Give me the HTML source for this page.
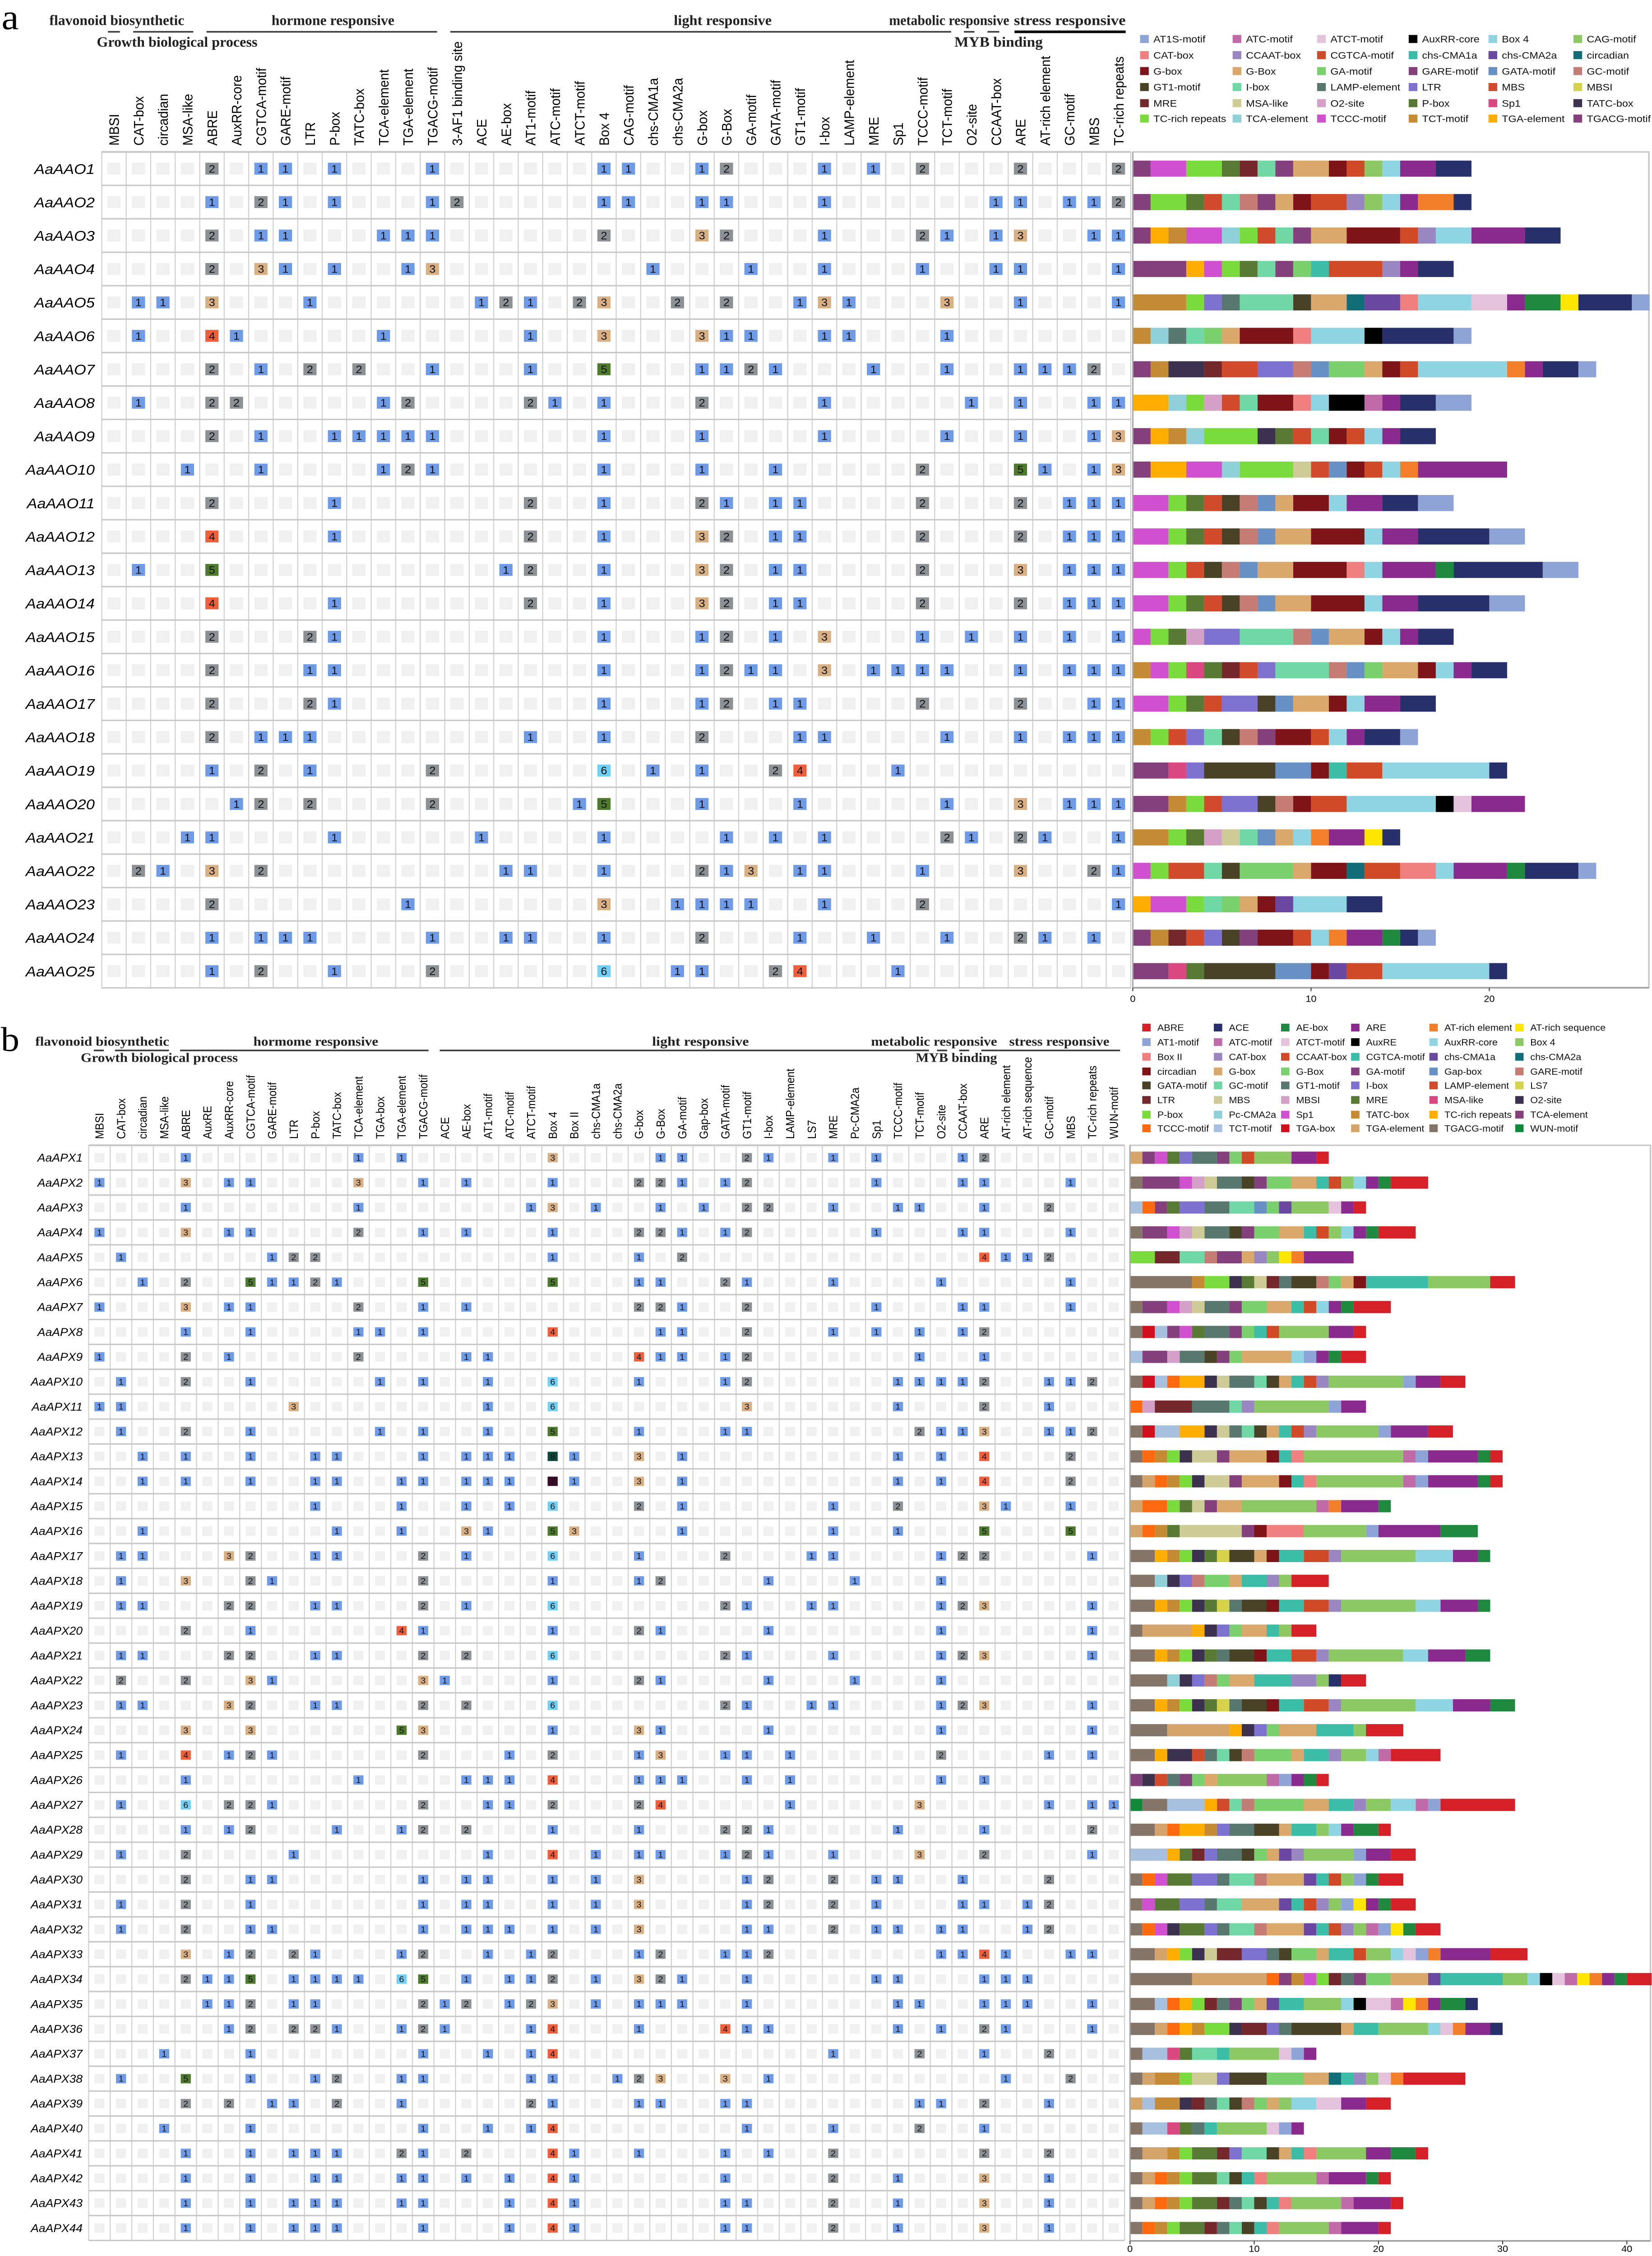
<!DOCTYPE html>
<html><head><meta charset="utf-8"><title>cis-element heatmaps</title>
<style>
html,body{margin:0;padding:0;background:#fff;width:100vw;height:100vh;overflow:hidden;}
svg{display:block;width:100vw;height:100vh;}
.hdr{font-family:"Liberation Serif",serif;font-weight:bold;fill:#222;}
.col{font-family:"Liberation Sans",sans-serif;fill:#000;}
.row{font-family:"Liberation Sans",sans-serif;font-style:italic;fill:#000;}
.num{font-family:"Liberation Sans",sans-serif;fill:#111;}
.leg{font-family:"Liberation Sans",sans-serif;fill:#111;}
.tick{font-family:"Liberation Sans",sans-serif;fill:#000;}
</style></head>
<body>
<svg id="fig" xmlns="http://www.w3.org/2000/svg" viewBox="0 0 1064 1568" preserveAspectRatio="none" overflow="hidden">
<rect x="0" y="0" width="1064" height="1568" fill="#fff"/>
<text x="1" y="20.3" font-family="Liberation Serif,serif" font-size="25">a</text>
<text x="0.5" y="730.6" font-family="Liberation Serif,serif" font-size="24">b</text>
</svg>
<script>
// ===== Panel A data =====
const motifsA = ["MBSI","CAT-box","circadian","MSA-like","ABRE","AuxRR-core","CGTCA-motif","GARE-motif","LTR","P-box","TATC-box","TCA-element","TGA-element","TGACG-motif","3-AF1 binding site","ACE","AE-box","AT1-motif","ATC-motif","ATCT-motif","Box 4","CAG-motif","chs-CMA1a","chs-CMA2a","G-box","G-Box","GA-motif","GATA-motif","GT1-motif","I-box","LAMP-element","MRE","Sp1","TCCC-motif","TCT-motif","O2-site","CCAAT-box","ARE","AT-rich element","GC-motif","MBS","TC-rich repeats"];
const genesA = ["AaAAO1","AaAAO2","AaAAO3","AaAAO4","AaAAO5","AaAAO6","AaAAO7","AaAAO8","AaAAO9","AaAAO10","AaAAO11","AaAAO12","AaAAO13","AaAAO14","AaAAO15","AaAAO16","AaAAO17","AaAAO18","AaAAO19","AaAAO20","AaAAO21","AaAAO22","AaAAO23","AaAAO24","AaAAO25"];
const cellsA = [
"4:2 6:1 7:1 9:1 13:1 20:1 21:1 24:1 25:2 29:1 31:1 33:2 37:2 41:2",
"4:1 6:2 7:1 9:1 13:1 14:2 20:1 21:1 24:1 25:1 29:1 36:1 37:1 39:1 40:1 41:2",
"4:2 6:1 7:1 11:1 12:1 13:1 20:2 24:3 25:2 29:1 33:2 34:1 36:1 37:3 40:1 41:1",
"4:2 6:3 7:1 9:1 12:1 13:3 22:1 26:1 29:1 33:1 36:1 37:1 41:1",
"1:1 2:1 4:3 8:1 15:1 16:2 17:1 19:2 20:3 23:2 25:2 28:1 29:3 30:1 34:3 37:1 41:1",
"1:1 4:4 5:1 11:1 17:1 20:3 24:3 25:1 26:1 29:1 30:1 34:1",
"4:2 6:1 8:2 10:2 13:1 17:1 20:5 24:1 25:1 26:2 27:1 31:1 34:1 37:1 38:1 39:1 40:2",
"1:1 4:2 5:2 11:1 12:2 17:2 18:1 20:1 24:2 29:1 35:1 37:1 40:1 41:1",
"4:2 6:1 9:1 10:1 11:1 12:1 13:1 20:1 24:1 29:1 34:1 37:1 40:1 41:3",
"3:1 6:1 11:1 12:2 13:1 20:1 24:1 27:1 33:2 37:5 38:1 40:1 41:3",
"4:2 9:1 17:2 20:1 24:2 25:1 27:1 28:1 33:2 37:2 39:1 40:1 41:1",
"4:4 9:1 17:2 20:1 24:3 25:2 27:1 28:1 33:2 37:2 39:1 40:1 41:1",
"1:1 4:5 16:1 17:2 20:1 24:3 25:2 27:1 28:1 33:2 37:3 39:1 40:1 41:1",
"4:4 9:1 17:2 20:1 24:3 25:2 27:1 28:1 33:2 37:2 39:1 40:1 41:1",
"4:2 8:2 9:1 20:1 24:1 25:2 27:1 29:3 33:1 35:1 37:1 39:1 41:1",
"4:2 8:1 9:1 20:1 24:1 25:2 26:1 27:1 29:3 31:1 32:1 33:1 34:1 37:1 39:1 40:1 41:1",
"4:2 8:2 9:1 20:1 24:1 25:2 27:1 28:1 33:2 37:2 40:1 41:1",
"4:2 6:1 7:1 8:1 17:1 20:1 24:2 28:1 29:1 34:1 37:1 39:1 40:1 41:1",
"4:1 6:2 8:1 13:2 20:6 22:1 24:1 27:2 28:4 32:1",
"5:1 6:2 8:2 13:2 19:1 20:5 24:1 28:1 34:1 37:3 39:1 40:1 41:1",
"3:1 4:1 9:1 15:1 20:1 25:1 27:1 29:1 34:2 35:1 37:2 38:1 41:1",
"1:2 2:1 4:3 6:2 16:1 17:1 20:1 24:2 25:1 26:3 28:1 29:1 33:1 37:3 40:2 41:1",
"4:2 12:1 20:3 23:1 24:1 25:1 26:1 29:1 33:2 41:1",
"4:1 6:1 7:1 8:1 13:1 16:1 17:1 20:1 24:2 28:1 31:1 34:1 37:2 38:1 40:1",
"4:1 6:2 9:1 13:2 20:6 23:1 24:1 27:2 28:4 32:1"
];
const legendA = ["AT1S-motif","ATC-motif","ATCT-motif","AuxRR-core","Box 4","CAG-motif","CAT-box","CCAAT-box","CGTCA-motif","chs-CMA1a","chs-CMA2a","circadian","G-box","G-Box","GA-motif","GARE-motif","GATA-motif","GC-motif","GT1-motif","I-box","LAMP-element","LTR","MBS","MBSI","MRE","MSA-like","O2-site","P-box","Sp1","TATC-box","TC-rich repeats","TCA-element","TCCC-motif","TCT-motif","TGA-element","TGACG-motif"];
const legendAColors = ["#8ea3d6","#c06aa8","#e6c3dc","#000000","#8fd4e3","#8cc864","#f07f80","#9a86c0","#d04a28","#3bbda8","#6a47a0","#0f6e78","#7f1418","#d9a86a","#7bd06e","#84407c","#6790c4","#c47c74","#4a4226","#6fd8a4","#58776f","#7d72d0","#d24a2c","#d6d24a","#74282c","#cfcb96","#d4a0c8","#587a34","#d94880","#3c3250","#7adc3c","#90d0d8","#d050d0","#c58a34","#ffae00","#84407c"];
const extraA = ["ABRE","3-AF1 binding site","ACE","AE-box","ARE","AT-rich element","AT1-motif"];
const extraAColors = ["#27306b","#f47f2a","#ffe600","#1f8a3f","#8a2a8e","#f47f2a","#8ea3d6"];
const ticksA = [0,10,20];

// ===== Panel B data =====
const motifsB = ["MBSI","CAT-box","circadian","MSA-like","ABRE","AuxRE","AuxRR-core","CGTCA-motif","GARE-motif","LTR","P-box","TATC-box","TCA-element","TGA-box","TGA-element","TGACG-motif","ACE","AE-box","AT1-motif","ATC-motif","ATCT-motif","Box 4","Box II","chs-CMA1a","chs-CMA2a","G-box","G-Box","GA-motif","Gap-box","GATA-motif","GT1-motif","I-box","LAMP-element","LS7","MRE","Pc-CMA2a","Sp1","TCCC-motif","TCT-motif","O2-site","CCAAT-box","ARE","AT-rich element","AT-rich sequence","GC-motif","MBS","TC-rich repeats","WUN-motif"];
const genesB = ["AaAPX1","AaAPX2","AaAPX3","AaAPX4","AaAPX5","AaAPX6","AaAPX7","AaAPX8","AaAPX9","AaAPX10","AaAPX11","AaAPX12","AaAPX13","AaAPX14","AaAPX15","AaAPX16","AaAPX17","AaAPX18","AaAPX19","AaAPX20","AaAPX21","AaAPX22","AaAPX23","AaAPX24","AaAPX25","AaAPX26","AaAPX27","AaAPX28","AaAPX29","AaAPX30","AaAPX31","AaAPX32","AaAPX33","AaAPX34","AaAPX35","AaAPX36","AaAPX37","AaAPX38","AaAPX39","AaAPX40","AaAPX41","AaAPX42","AaAPX43","AaAPX44"];
const cellsB = [
"4:1 12:1 14:1 21:3 26:1 27:1 30:2 31:1 34:1 36:1 40:1 41:2",
"0:1 4:3 6:1 7:1 12:3 15:1 17:1 21:1 25:2 26:2 27:1 29:1 30:2 36:1 40:1 41:1 45:1",
"4:1 12:1 20:1 21:3 23:1 26:1 28:1 30:2 31:2 34:1 37:1 38:1 41:1 44:2",
"0:1 4:3 6:1 7:1 12:2 15:1 17:1 21:1 25:2 26:2 27:1 29:1 30:2 36:1 40:1 41:1 45:1",
"1:1 8:1 9:2 10:2 21:1 25:1 27:2 41:4 42:1 43:1 44:2",
"2:1 4:2 7:5 8:1 9:1 10:2 11:1 15:5 21:5 25:1 26:1 29:2 30:1 34:1 39:1 45:1",
"0:1 4:3 6:1 7:1 12:2 15:1 17:1 25:2 26:2 27:1 30:2 36:1 40:1 41:1 45:1",
"4:1 7:1 12:1 13:1 15:1 21:4 26:1 27:1 30:2 34:1 36:1 38:1 40:1 41:2",
"0:1 4:2 6:1 12:2 17:1 18:1 25:4 26:1 27:1 29:1 30:2 38:1 41:1",
"1:1 4:2 7:1 13:1 15:1 18:1 21:6 25:1 29:1 30:2 37:1 38:1 39:1 40:1 41:2 44:1 45:1 46:2",
"0:1 1:1 9:3 18:1 21:6 30:3 37:1 41:2 44:1",
"1:1 4:2 7:1 13:1 15:1 18:1 21:5 25:1 29:1 30:1 38:2 39:1 40:1 41:3 44:1 45:1 46:2",
"2:1 4:1 7:1 10:1 11:1 15:1 17:1 18:1 19:1 21:8 22:1 25:3 27:1 37:1 39:1 41:4 45:2",
"2:1 4:1 7:1 10:1 11:1 14:1 15:1 17:1 18:1 19:1 21:7 22:1 25:3 27:1 37:1 39:1 41:4 45:2",
"10:1 14:1 17:1 19:1 21:6 25:2 27:1 34:1 37:2 41:3 42:1 45:1",
"2:1 11:1 14:1 17:3 18:1 21:5 22:3 27:1 34:1 37:1 41:5 45:5",
"1:1 2:1 6:3 7:2 10:1 11:1 15:2 17:1 21:6 25:1 29:2 33:1 34:1 39:1 40:2 41:2 46:1",
"1:1 4:3 7:2 8:1 15:2 21:1 25:1 26:2 31:1 35:1 39:1",
"1:1 2:1 6:2 7:2 10:1 11:1 15:2 17:1 21:6 29:2 30:1 33:1 34:1 39:1 40:2 41:3 46:1",
"4:2 7:1 14:4 15:1 21:1 25:2 26:1 31:1 39:1 46:1",
"1:1 2:1 6:2 7:2 10:1 11:1 15:2 17:2 21:6 29:2 30:1 34:1 39:1 40:2 41:3 46:1",
"1:2 4:2 7:3 8:1 15:3 16:1 21:1 25:2 26:1 31:1 35:1 39:1",
"1:1 2:1 6:3 7:2 10:1 11:1 15:2 17:2 21:6 29:2 30:1 33:1 34:1 39:1 40:2 41:3 46:1",
"4:3 7:3 14:5 15:3 21:1 25:3 26:1 31:1 39:1 46:1",
"1:1 4:4 6:1 7:2 8:1 15:2 19:1 21:2 25:1 26:3 29:1 30:1 32:1 39:2 44:1 46:1",
"4:1 12:1 17:1 18:1 19:1 21:4 25:1 26:1 27:1 30:1 32:1 39:1 41:1",
"1:1 4:6 6:2 7:2 8:1 15:2 18:1 19:1 21:2 25:2 26:4 32:1 38:3 44:1 46:1 47:1",
"4:1 6:1 7:2 11:1 14:1 15:2 17:2 21:1 25:1 29:2 30:2 31:1 37:1 41:1 46:2",
"1:1 4:2 9:1 18:1 21:4 23:1 25:1 26:1 29:1 30:2 31:1 34:1 38:3 41:2 46:1",
"4:2 7:1 8:1 15:1 17:1 18:1 21:1 23:1 25:3 30:1 31:2 34:2 36:1 37:1 40:1 44:2",
"1:1 4:2 7:1 15:1 17:1 18:1 21:1 23:1 25:3 30:1 31:2 34:2 36:1 40:1 41:1 43:1 44:2",
"1:1 4:2 7:1 8:1 15:1 17:1 18:1 19:1 21:1 23:1 25:3 30:1 31:1 34:2 36:1 37:1 39:1 40:1 43:1 44:2",
"4:3 6:1 7:2 9:2 10:1 14:1 15:2 18:1 20:1 21:2 25:1 26:2 29:1 30:1 31:2 39:1 40:1 41:4 42:1 45:1 46:1",
"4:2 5:1 6:1 7:5 9:1 10:1 11:1 12:1 14:6 15:5 17:1 19:1 20:1 21:2 23:1 25:3 26:2 27:1 30:1 36:1 37:1 41:1 42:1 43:1",
"5:1 6:1 7:2 9:1 10:1 15:2 16:1 17:2 19:1 20:2 21:3 23:1 25:1 26:1 27:1 30:1 37:1 38:1 41:1 42:1 43:1 46:1",
"6:1 7:2 9:2 10:2 11:1 14:1 15:2 16:1 20:1 21:4 25:1 29:4 30:1 31:1 37:1 39:1 41:2 42:1 46:1",
"3:1 7:1 15:1 18:1 20:1 21:4 34:1 38:2 41:1 44:2",
"1:1 4:5 7:1 10:1 11:2 14:1 15:1 20:1 21:1 24:1 25:2 26:3 29:3 31:1 42:1 45:2",
"4:2 6:2 8:1 9:1 11:2 14:1 20:2 21:1 25:1 26:1 29:1 30:1 38:1 39:1 41:2 44:1",
"3:1 7:1 15:1 18:1 20:1 21:4 30:1 34:1 38:2 41:1",
"4:1 7:1 9:1 10:1 11:1 14:2 15:1 17:2 21:4 22:1 25:1 29:1 31:1 34:2 41:2 44:2",
"4:1 7:1 10:1 11:1 14:1 15:1 17:1 19:1 21:4 22:1 29:1 34:2 37:1 41:3 44:1",
"4:1 7:1 9:1 10:1 11:1 14:1 15:1 19:1 21:4 22:1 29:1 30:1 34:2 37:1 41:3 44:1",
"4:1 7:1 9:1 10:1 11:1 15:1 19:1 21:4 22:1 29:1 30:1 34:2 37:1 41:3 44:1"
];
const legendB = ["ABRE","ACE","AE-box","ARE","AT-rich element","AT-rich sequence","AT1-motif","ATC-motif","ATCT-motif","AuxRE","AuxRR-core","Box 4","Box II","CAT-box","CCAAT-box","CGTCA-motif","chs-CMA1a","chs-CMA2a","circadian","G-box","G-Box","GA-motif","Gap-box","GARE-motif","GATA-motif","GC-motif","GT1-motif","I-box","LAMP-element","LS7","LTR","MBS","MBSI","MRE","MSA-like","O2-site","P-box","Pc-CMA2a","Sp1","TATC-box","TC-rich repeats","TCA-element","TCCC-motif","TCT-motif","TGA-box","TGA-element","TGACG-motif","WUN-motif"];
const legendBColors = ["#d62028","#27306b","#1f8a3f","#8a2a8e","#f47f2a","#ffe600","#8ea3d6","#c06aa8","#e6c3dc","#000000","#8fd4e3","#8cc864","#f07f80","#9a86c0","#d04a28","#3bbda8","#6a47a0","#0f6e78","#7f1418","#d9a86a","#7bd06e","#84407c","#6790c4","#c47c74","#4a4226","#6fd8a4","#58776f","#7d72d0","#d24a2c","#d6d24a","#74282c","#cfcb96","#d4a0c8","#587a34","#d94880","#3c3250","#7adc3c","#90d0d8","#d050d0","#c58a34","#ffae00","#84407c","#ff6a10","#a8c0e0","#d0101c","#d4a46a","#857468","#108a3a"];
const ticksB = [0,10,20,30,40];

const valueColors = ["#f0f0f0","#6f9be6","#8c9196","#d8b084","#ef5f3c","#4d7a2c","#72d0f4","#3b0b2b","#0d4b3f"];

// ===== Rendering =====
const NS = "http://www.w3.org/2000/svg";
const svg = document.getElementById("fig");
function mk(tag, attrs, parent) {
  const e = document.createElementNS(NS, tag);
  for (const k in attrs) e.setAttribute(k, attrs[k]);
  (parent || svg).appendChild(e);
  return e;
}
function parseCells(s) {
  const m = {};
  s.trim().split(/\s+/).forEach(p => { const [c, v] = p.split(":"); m[+c] = +v; });
  return m;
}

function drawHeader(texts, lines, lineY) {
  texts.forEach(t => {
    const el = mk("text", {x: t[1], y: t[3], class: "hdr", "font-size": t[4], textLength: t[2] - t[1], lengthAdjust: "spacingAndGlyphs"});
    el.textContent = t[0];
    
    
  });
  lines.forEach(l => {
    const el = mk("line", {x1: l[0], x2: l[1], y1: lineY, y2: lineY, stroke: l[2] || "#3a3a3a", "stroke-width": l[3] || 1.1});
    
    
  });
}

function drawPanel(P) {
  const g = mk("g", {});
  
  
  const nR = P.genes.length, nC = P.motifs.length;
  const right = P.left + nC * P.cw, bottom = P.top + nR * P.rh;
  P.motifs.forEach((m, i) => {
    const cx = P.left + (i + 0.5) * P.cw + P.colFont * 0.36;
    const t = mk("text", {x: cx, y: P.top - 4.4, class: "col", "font-size": P.colFont, transform: `rotate(-90 ${cx} ${P.top - 4.4})`}, g);
    t.textContent = m;
    
    
  });
  for (let i = 0; i <= nC; i++) {
    const x = P.left + i * P.cw;
    mk("line", {x1: x, x2: x, y1: P.top, y2: bottom, stroke: "#d2d2d2", "stroke-width": 0.7}, g);
  }
  for (let r = 0; r <= nR; r++) {
    const y = P.top + r * P.rh;
    mk("line", {x1: P.left, x2: right, y1: y, y2: y, stroke: "#c8c8c8", "stroke-width": r === 0 ? 1.3 : 1}, g);
  }
  P.genes.forEach((gene, r) => {
    const cy = P.top + (r + 0.5) * P.rh;
    const lbl = mk("text", {x: P.labelRight, y: cy + P.rowFont * 0.36, class: "row", "font-size": P.rowFont, "text-anchor": "end"}, g);
    lbl.textContent = gene;
    
    
    const cells = parseCells(P.cells[r]);
    for (let c = 0; c < nC; c++) {
      const cx = P.left + (c + 0.5) * P.cw;
      const v = cells[c] || 0;
      const sq = mk("rect", {x: cx - P.sw / 2, y: cy - P.sh / 2, width: P.sw, height: P.sh, fill: valueColors[v]}, g);
      
      
      if (v) {
        const tx = mk("text", {x: cx, y: cy + P.numFont * 0.36, class: "num", "font-size": P.numFont, "text-anchor": "middle"}, g);
        tx.textContent = v;
        
        
      }
    }
  });
  const bg = mk("g", {});
  
  
  const xS = v => P.bx0 + v * P.bxu;
  const frame = mk("rect", {x: P.bx0, y: P.top, width: P.bxR - P.bx0, height: P.bBottom - P.top, fill: "none", stroke: "#c8c8c8", "stroke-width": 1}, bg);
  
  
  const order = P.order;
  P.genes.forEach((gene, r) => {
    const cells = parseCells(P.cells[r]);
    const segs = Object.keys(cells).map(c => [P.motifs[+c], cells[c]]);
    segs.sort((a, b) => order.indexOf(b[0]) - order.indexOf(a[0]));
    const cy = P.top + (r + 0.5) * P.rh;
    let acc = 0;
    segs.forEach(s => {
      const col = P.colorOf(s[0]);
      const rc = mk("rect", {x: xS(acc), y: cy - P.bh / 2, width: xS(acc + s[1]) - xS(acc), height: P.bh, fill: col}, bg);
      
      
      acc += s[1];
    });
  });
  const ax = mk("line", {x1: P.bx0, x2: P.bxR, y1: P.bBottom, y2: P.bBottom, stroke: "#999", "stroke-width": 1}, bg);
  
  
  mk("line", {x1: P.bx0, x2: P.bx0, y1: P.top, y2: P.bBottom, stroke: "#aaa", "stroke-width": 0.8}, bg);
  P.ticks.forEach(t => {
    mk("line", {x1: xS(t), x2: xS(t), y1: P.bBottom, y2: P.bBottom + 2.4, stroke: "#333", "stroke-width": 0.6}, bg);
    const tl = mk("text", {x: xS(t), y: P.tickY, class: "tick", "font-size": 6.3, "text-anchor": "middle"}, bg);
    tl.textContent = t;
    
    
  });
}

function drawLegend(names, colors, cols, colX, rowY, sw, textOff, fs, name, serifFirst) {
  const g = mk("g", {});
  
  
  names.forEach((n, i) => {
    const c = i % cols, r = Math.floor(i / cols);
    const x = colX[c], y = rowY[r];
    const s = mk("rect", {x: x, y: y - sw / 2, width: sw, height: sw, fill: colors[i]}, g);
    
    
    const t = mk("text", {x: x + textOff, y: y + fs * 0.36, class: "leg", "font-size": fs}, g);
    if (serifFirst && c === 0) t.setAttribute("font-family", "Liberation Serif, serif");
    t.textContent = n;
    
    
  });
}

drawHeader([
  ["flavonoid biosynthetic", 31.8, 118.7, 17.4, 10],
  ["hormone responsive", 174.9, 254, 17.4, 10],
  ["light responsive", 434, 497, 17.4, 10],
  ["metabolic responsive", 572.6, 650, 17.4, 10],
  ["stress responsive", 653, 725, 17.4, 10],
  ["Growth biological process", 62.3, 165.8, 32.5, 10],
  ["MYB binding", 614.7, 671.6, 32.5, 10]
], [[69.5,77.2],[85.8,124.5],[133,281.5],[290,612.6],[620.8,627.6],[636,643.6],[653.4,725,"#000",1.8]], 22.1);

drawHeader([
  ["flavonoid biosynthetic", 22.7, 109, 726.7, 9],
  ["hormome responsive", 163.2, 243.6, 726.7, 9],
  ["light responsive", 420, 482.3, 726.7, 9],
  ["metabolic responsive", 561, 642.2, 726.7, 9],
  ["stress responsive", 650, 714.5, 726.7, 9],
  ["Growth biological process", 52, 153.2, 738, 9],
  ["MYB binding", 589.8, 642.2, 738, 9]
], [[60.4,66.9],[74,108.8],[116,276],[283.2,598.3],[603.5,610],[617.8,624.2],[632,721.4]], 730.1);

const orderA = extraA.slice(0, 6).concat(legendA);
function colorA(m) {
  const i = legendA.indexOf(m);
  if (i >= 0) return legendAColors[i];
  const j = extraA.indexOf(m);
  return j >= 0 ? extraAColors[j] : "#999";
}
function colorB(m) {
  const i = legendB.indexOf(m);
  return i >= 0 ? legendBColors[i] : "#999";
}

drawPanel({name: "panel-a", motifs: motifsA, genes: genesA, cells: cellsA,
  left: 65.5, cw: 15.78, top: 105.6, rh: 23.24, colFont: 9, rowFont: 10, numFont: 7.4,
  labelRight: 61, sw: 8.5, sh: 8.3,
  bx0: 729.6, bxu: 11.48, bxR: 1062, bBottom: 686.5, bh: 11.2, ticks: ticksA, tickY: 696.3,
  order: orderA, colorOf: colorA});

drawPanel({name: "panel-b", motifs: motifsB, genes: genesB, cells: cellsB,
  left: 57.1, cw: 13.9, top: 796, rh: 17.3, colFont: 7.4, rowFont: 7.7, numFont: 5.8,
  labelRight: 53.2, sw: 6.5, sh: 6.5,
  bx0: 727.8, bxu: 8.0, bxR: 1063, bBottom: 1557.5, bh: 8.5, ticks: ticksB, tickY: 1565.2,
  order: legendB, colorOf: colorB});

drawLegend(legendA, legendAColors, 6, [734.3,793.9,848.3,907.3,958.7,1013.4],
  [27.1,38.3,49.4,60.5,71.7,82.4], 5.6, 8.6, 6.8, "legend-a", true);
drawLegend(legendB, legendBColors, 6, [735.7,781.8,825.1,870.2,920.6,975.9],
  [714.2,724.3,734.5,744.7,754.4,764.5,774.7,784.2], 5.4, 9.7, 6.3, "legend-b", false);
</script>
</body></html>
